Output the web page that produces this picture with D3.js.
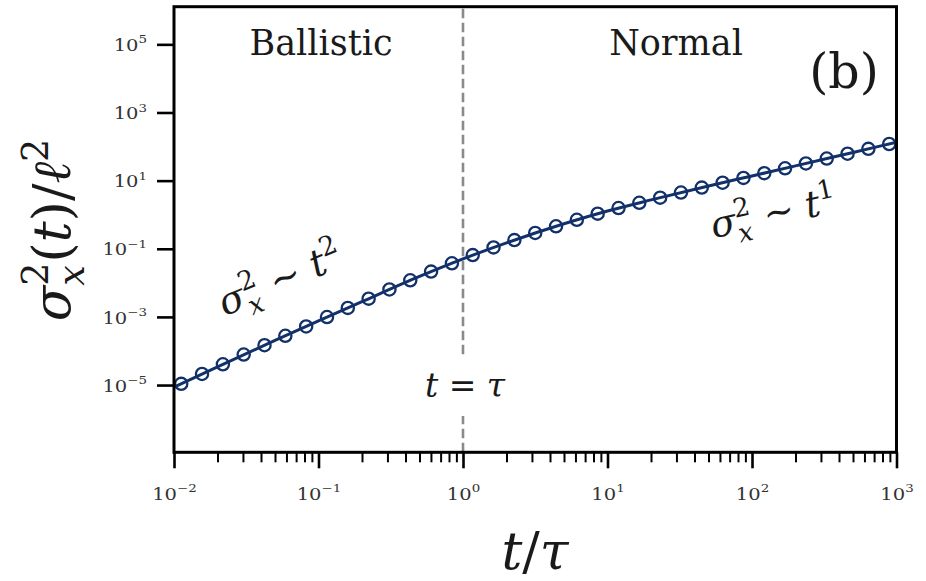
<!DOCTYPE html>
<html>
<head>
<meta charset="utf-8">
<script src="https://cdn.jsdelivr.net/npm/d3@7"></script>
<style>
  html, body { margin: 0; padding: 0; background: #fff; }
  svg { display: block; }
</style>
</head>
<body>
<svg id="chart" width="926" height="581"></svg>
<script>
// Simulated variance samples (t/τ, σ_x²/ℓ²)
const sampleT = [0.01122, 0.01563, 0.02179, 0.03036, 0.04230, 0.05895, 0.08214, 0.1145, 0.1595,
  0.2223, 0.3097, 0.4316, 0.6014, 0.8381, 1.168, 1.627, 2.268, 3.160, 4.404, 6.136, 8.551,
  11.92, 16.60, 23.14, 32.24, 44.93, 62.60, 87.25, 121.6, 169.4, 236.1, 329.0, 458.5, 638.9, 890.3];
const sampleMsd = [1.084e-5, 2.113e-5, 4.07e-5, 7.85e-5, 1.479e-4, 2.786e-4, 5.25e-4, 9.89e-4,
  1.841e-3, 3.43e-3, 6.38e-3, 0.01189, 0.02138, 0.03758, 0.0653, 0.1096, 0.1799, 0.2917,
  0.4571, 0.7079, 1.072, 1.567, 2.239, 3.162, 4.467, 6.237, 8.710, 12.02, 16.60, 23.01,
  31.99, 44.46, 61.66, 85.70, 118.9];

// Analytic curve
const theoryT = [0.01, 0.02, 0.05, 0.1, 0.2, 0.5, 1, 2, 5, 10, 20, 50, 100, 200, 500, 1000];
const theoryMsd = [8.61e-6, 3.44e-5, 2.04e-4, 7.64e-4, 2.81e-3, 0.01542, 0.0505, 0.1493,
  0.541, 1.282, 2.716, 6.95, 13.74, 27.16, 67.3, 133.7];

// Axis ticks (powers of ten)
const xTickExps = [-2, -1, 0, 1, 2, 3];
const yTickExps = [-5, -3, -1, 1, 3, 5];
const regimeLabels = ["Ballistic", "Normal"];
const panelLabel = "(b)";
const crossoverT = 1;

const W = 926, H = 581;
const plot = { left: 174, right: 896.5, top: 6.7, bottom: 452.3 };
const navy = "#12306a";
const serif = "'DejaVu Serif', 'Liberation Serif', serif";
const ink = "#1a1a1a";

const x = d3.scaleLog().domain([1e-2, 1e3]).range([plot.left, plot.right]);
const y = d3.scaleLog().domain([1.062e-7, 1.274e6]).range([plot.bottom, plot.top]);

const svg = d3.select("#chart");
svg.append("rect").attr("width", W).attr("height", H).attr("fill", "#fff");

svg.append("defs").append("clipPath").attr("id", "plotClip")
  .append("rect")
  .attr("x", plot.left).attr("y", plot.top)
  .attr("width", plot.right - plot.left).attr("height", plot.bottom - plot.top);

const minus = s => String(s).replace("-", "\u2212");

// Write "10^e" into each tick label
function powerLabels(sel, exps, supSize, supRise) {
  sel.each(function (d, i) {
    const t = d3.select(this);
    t.text(null);
    t.append("tspan").text("10");
    t.append("tspan").attr("dy", -supRise).attr("font-size", supSize).text(minus(exps[i]));
  });
}

// tick labels are set in a slightly widened face
const tickFont = 16, supFont = 11, supRise = 7.5, tickWiden = 1.22;

// ---- x axis ----
const xMinor = [];
for (let e = -2; e < 3; e++) for (let m = 2; m <= 9; m++) xMinor.push(m * Math.pow(10, e));

const xAxisG = svg.append("g").attr("transform", `translate(0,${plot.bottom})`);
xAxisG.call(d3.axisBottom(x).tickValues(xMinor).tickSize(10).tickFormat(""))
  .call(g => g.select(".domain").remove())
  .call(g => g.selectAll(".tick line").attr("stroke", "#000").attr("stroke-width", 2));

const xMajorG = svg.append("g").attr("transform", `translate(0,${plot.bottom})`);
xMajorG.call(d3.axisBottom(x).tickValues(xTickExps.map(e => Math.pow(10, e))).tickSize(16).tickPadding(20))
  .call(g => g.select(".domain").remove())
  .call(g => g.selectAll(".tick line").attr("stroke", "#000").attr("stroke-width", 2.6))
  .call(g => g.selectAll(".tick text")
    .attr("font-family", serif).attr("font-size", tickFont).attr("fill", "#333")
    .attr("transform", `scale(${tickWiden},1)`)
    .call(s => powerLabels(s, xTickExps, supFont, supRise)));

// ---- y axis ----
const yAxisG = svg.append("g").attr("transform", `translate(${plot.left},0)`);
yAxisG.call(d3.axisLeft(y).tickValues(yTickExps.map(e => Math.pow(10, e))).tickSize(17).tickPadding(10))
  .call(g => g.select(".domain").remove())
  .call(g => g.selectAll(".tick line").attr("stroke", "#000").attr("stroke-width", 2.6))
  .call(g => g.selectAll(".tick text")
    .attr("font-family", serif).attr("font-size", tickFont).attr("fill", "#333").attr("dy", "0.38em")
    .attr("x", -27 / tickWiden)
    .attr("transform", `scale(${tickWiden},1)`)
    .call(s => powerLabels(s, yTickExps, supFont, supRise)));

// ---- crossover marker ----
svg.append("path")
  .attr("d", `M${x(crossoverT)},${plot.bottom}L${x(crossoverT)},${plot.top}`)
  .attr("stroke", "#8a8a8a").attr("stroke-width", 2.6)
  .attr("stroke-dasharray", "9.5,4.5").attr("fill", "none");

// ---- data ----
const dataG = svg.append("g").attr("clip-path", "url(#plotClip)");
const line = d3.line()
  .x((d, i) => x(theoryT[i]))
  .y(d => y(d))
  .curve(d3.curveMonotoneX);
dataG.append("path")
  .attr("d", line(theoryMsd))
  .attr("fill", "none").attr("stroke", navy).attr("stroke-width", 3);

dataG.selectAll("circle").data(sampleMsd).join("circle")
  .attr("cx", (d, i) => x(sampleT[i]))
  .attr("cy", d => y(d))
  .attr("r", 6.1)
  .attr("fill", "none").attr("stroke", navy).attr("stroke-width", 2.3);

// ---- frame ----
svg.append("rect")
  .attr("x", plot.left).attr("y", plot.top)
  .attr("width", plot.right - plot.left).attr("height", plot.bottom - plot.top)
  .attr("fill", "none").attr("stroke", "#000").attr("stroke-width", 3);

// ---- math text helper ----
// parts: {s, it, small, shift (em, up negative), stack (overlay on previous)}
function mathText(g, parts, size, anchor) {
  const text = g.append("text")
    .attr("font-family", serif).attr("font-size", size)
    .attr("text-anchor", anchor || "middle").attr("fill", ink);
  let shift = 0, prev = null, pendingDx = 0;
  parts.forEach(p => {
    const sc = p.small ? 0.7 : 1;
    const target = (p.shift || 0) * size;
    const ts = text.append("tspan").text(p.s)
      .attr("font-size", size * sc)
      .attr("font-style", p.it ? "italic" : "normal")
      .attr("dy", target - shift);
    shift = target;
    let dx = pendingDx;
    pendingDx = 0;
    if (p.stack && prev) {
      const wPrev = prev.node().getComputedTextLength();
      dx -= wPrev;
      const wCur = ts.node().getComputedTextLength();
      pendingDx = Math.max(0, wPrev - wCur);
    }
    if (dx) ts.attr("dx", dx);
    prev = ts;
  });
  return text;
}

const sigmaX = [
  { s: "σ", it: true },
  { s: "2", small: true, shift: -0.42 },
  { s: "x", it: true, small: true, shift: 0.26, stack: true }
];

// ---- regime labels ----
svg.append("text").attr("x", 321).attr("y", 55).attr("text-anchor", "middle")
  .attr("font-family", serif).attr("font-size", 35).attr("fill", ink).text(regimeLabels[0]);
svg.append("text").attr("x", 676).attr("y", 55).attr("text-anchor", "middle")
  .attr("font-family", serif).attr("font-size", 35).attr("fill", ink).text(regimeLabels[1]);
svg.append("text").attr("x", 844).attr("y", 88).attr("text-anchor", "middle")
  .attr("font-family", serif).attr("font-size", 49).attr("fill", ink).text(panelLabel);

// ---- scaling annotations ----
const leftAnn = svg.append("g").attr("transform", "translate(285,291) rotate(-23)");
mathText(leftAnn, sigmaX.concat([
  { s: "\u00A0∼\u00A0" },
  { s: "t", it: true },
  { s: "2", small: true, shift: -0.42 }
]), 38);

const rightAnn = svg.append("g").attr("transform", "translate(776,225) rotate(-12)");
mathText(rightAnn, sigmaX.concat([
  { s: "\u00A0∼\u00A0" },
  { s: "t", it: true },
  { s: "1", small: true, shift: -0.42 }
]), 37);

// ---- crossover label with white box ----
svg.append("rect").attr("x", x(crossoverT) - 46).attr("y", 357)
  .attr("width", 94).attr("height", 59).attr("fill", "#fff");
const tauG = svg.append("g").attr("transform", `translate(${x(crossoverT) + 2},397)`);
mathText(tauG, [
  { s: "t", it: true },
  { s: "\u00A0=\u00A0" },
  { s: "τ", it: true }
], 33);

// ---- axis titles ----
const xTitle = svg.append("g").attr("transform", "translate(535,569)");
mathText(xTitle, [
  { s: "t", it: true },
  { s: "/" },
  { s: "τ", it: true }
], 52);

const yTitle = svg.append("g").attr("transform", "translate(70,230) rotate(-90)");
mathText(yTitle, sigmaX.concat([
  { s: "(" },
  { s: "t", it: true },
  { s: ")/" },
  { s: "ℓ", it: true },
  { s: "2", small: true, shift: -0.42 }
]), 52);
</script>
</body>
</html>
